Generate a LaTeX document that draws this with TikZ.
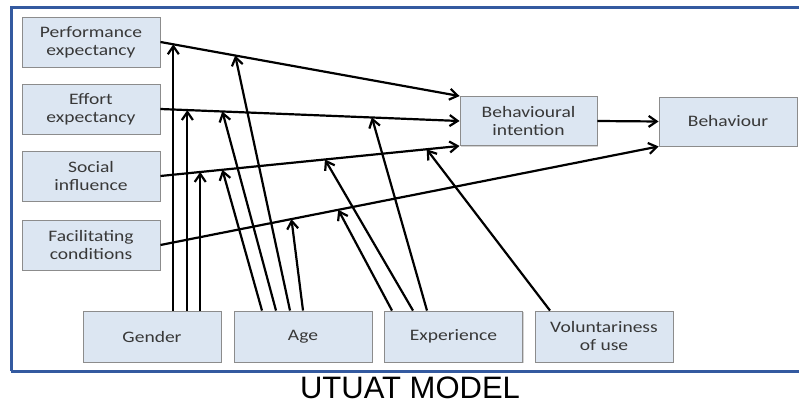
\documentclass[tikz,border=0pt]{standalone}
\usepackage{fontspec}
\setmainfont{Liberation Sans}
\newfontfamily\boxfont[FakeStretch=1.22]{Carlito}
\usetikzlibrary{positioning,calc,arrows.meta,shadows}
\definecolor{boxfill}{RGB}{220,230,242}
\definecolor{boxline}{RGB}{140,140,140}
\definecolor{framec}{RGB}{52,90,160}
\tikzset{
  fac/.style ={rectangle, draw=boxline, fill=boxfill, line width=0.9pt, minimum width=138, minimum height=50,
               inner sep=0pt, align=center, font=\boxfont\fontsize{16}{18}\selectfont, text=black!78,
               drop shadow={opacity=0.35, shadow xshift=1.2pt, shadow yshift=-1.2pt}},
  e/.style   ={-{Straight Barb[length=8pt, width=11pt]}, line width=2.2pt, draw=black},
}
\begin{document}
\begin{tikzpicture}[x=1pt, y=-1pt]
\useasboundingbox (0,0) rectangle (799,403);
% frame
\draw[framec, line width=3pt] (11,371) -- (11,8) -- (830,8);
\draw[framec, line width=3pt] (11,371) -- (830,371);
% core constructs
\node[fac] (pe)  at (91,42)  {Performance\\expectancy};
\node[fac] (ee)  at (91,109) {Effort\\expectancy};
\node[fac] (si)  at (91,176) {Social\\influence};
\node[fac] (fc)  at (91,245) {Facilitating\\conditions};
\node[fac, minimum width=137, minimum height=49] (bi)  at (528.5,121) {Behavioural\\intention};
\node[fac, minimum height=49] (beh) at (728,121.5) {Behaviour};
% moderators
\node[fac, minimum height=51] (gen) at (152,336.5) {Gender};
\node[fac, minimum height=51] (age) at (303,336.5) {Age};
\node[fac, minimum height=51] (exp) at (453.5,336.5) {Experience};
\node[fac, minimum height=51] (vol) at (604,336.5) {Voluntariness\\of use};
% main paths
\draw[e] (pe.east) -- (bi.north west);
\draw[e] (ee.east) -- (bi.west);
\draw[e] (si.east) -- (bi.south west);
\draw[e] (fc.east) -- (beh.south west);
\draw[e] (bi.east) -- (beh.west);
% points on the main paths
\path (pe.east) -- (bi.north west) coordinate[pos=.043] (g1) coordinate[pos=.25] (a1);
\path (ee.east) -- (bi.west) coordinate[pos=.09] (g2) coordinate[pos=.207] (a2) coordinate[pos=.707] (x1);
\path (si.east) -- (bi.south west) coordinate[pos=.133] (g3) coordinate[pos=.207] (a3)
  coordinate[pos=.55] (x2) coordinate[pos=.89] (v1);
\path (fc.east) -- (beh.south west) coordinate[pos=.263] (a4) coordinate[pos=.357] (x3);
% gender
\draw[e] (g1 |- gen.north) -- (g1);
\draw[e] (g2 |- gen.north) -- (g2);
\draw[e] (g3 |- gen.north) -- (g3);
% age
\draw[e] ([xshift=-41pt]age.north) -- (a3);
\draw[e] ([xshift=-27pt]age.north) -- (a2);
\draw[e] ([xshift=-13pt]age.north) -- (a1);
\draw[e] (age.north) -- (a4);
% experience
\draw[e] ([xshift=-61.5pt]exp.north) -- (x3);
\draw[e] ([xshift=-40.5pt]exp.north) -- (x2);
\draw[e] ([xshift=-26.5pt]exp.north) -- (x1);
% voluntariness
\draw[e] ([xshift=-54pt]vol.north) -- (v1);
\node[font=\fontsize{31}{36}\selectfont, anchor=base, inner sep=0pt, text depth=0pt] (cap) at (410,398) {UTUAT MODEL};
\end{tikzpicture}
\end{document}
